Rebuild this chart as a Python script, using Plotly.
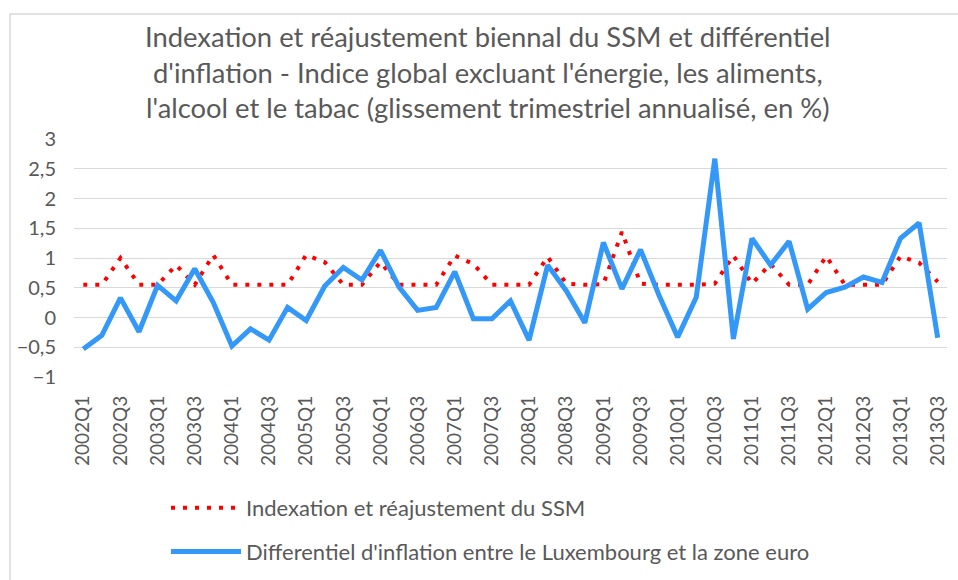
import plotly.graph_objects as go

quarters = [f"{y}Q{q}" for y in range(2002, 2014) for q in range(1, 5)][:47]

ssm = [0.55, 0.55, 1.0, 0.55, 0.55, 0.88, 0.55, 1.05, 0.55, 0.55,
       0.55, 0.55, 1.05, 0.93, 0.55, 0.55, 0.93, 0.55, 0.55, 0.55,
       1.04, 0.9, 0.55, 0.55, 0.55, 1.02, 0.57, 0.55, 0.56, 1.44,
       0.57, 0.55, 0.55, 0.55, 0.57, 1.04, 0.57, 0.9, 0.55, 0.55,
       1.03, 0.55, 0.55, 0.55, 1.03, 0.92, 0.6]

diff = [-0.53, -0.30, 0.33, -0.24, 0.54, 0.28, 0.82, 0.25, -0.48, -0.19,
        -0.38, 0.17, -0.05, 0.53, 0.84, 0.63, 1.13, 0.51, 0.12, 0.17,
        0.77, -0.02, -0.02, 0.28, -0.38, 0.88, 0.45, -0.09, 1.26, 0.48,
        1.14, 0.37, -0.33, 0.34, 2.67, -0.36, 1.33, 0.88, 1.28, 0.14,
        0.42, 0.51, 0.68, 0.59, 1.33, 1.59, -0.34]

tick_labels = quarters[::2]
name_ssm = "Indexation et réajustement du SSM"
name_diff = "Differentiel d'inflation entre le Luxembourg et la zone euro"
title_text = ("Indexation et réajustement biennal du SSM et différentiel<br>"
              "d'inflation - Indice global excluant l'énergie, les aliments,<br>"
              "l'alcool et le tabac (glissement trimestriel annualisé, en %)")

FONT = "Lato"
GRAY = "#595959"
W, H = 958, 580

fig = go.Figure()
fig.add_trace(go.Scatter(x=quarters, y=ssm, mode="lines", name=name_ssm,
                         legendgroup="a",
                         line=dict(color="#FF0000", width=4, dash="4px,8px")))
fig.add_trace(go.Scatter(x=quarters, y=diff, mode="lines", name=name_diff,
                         legendgroup="b",
                         line=dict(color="#3498F9", width=5)))

fig.update_layout(
    width=W, height=H,
    margin=dict(l=0, r=0, t=0, b=0),
    paper_bgcolor="white", plot_bgcolor="white",
    separators=", ",
    font=dict(family=FONT, color=GRAY),
    xaxis=dict(domain=[74 / W, 947 / W], type="category", range=[-0.5, 46.5],
               tickmode="array", tickvals=tick_labels, ticktext=tick_labels,
               tickangle=-90, tickfont=dict(size=19, color=GRAY),
               showgrid=False, showline=False, ticks="", automargin=False,
               ticklabelstandoff=14),
    yaxis=dict(domain=[(H - 377) / H, (H - 139) / H], range=[-1, 3],
               dtick=0.5, tick0=-1, showgrid=True, gridcolor="#D9D9D9",
               gridwidth=1, zeroline=False, tickfont=dict(size=20, color=GRAY),
               ticks="", ticklabelstandoff=17, automargin=False),
    legend=dict(x=166 / W, y=1 - 487 / H, xanchor="left", yanchor="top",
                font=dict(size=22, color=GRAY), traceorder="grouped",
                tracegroupgap=12, itemwidth=70, bgcolor="rgba(0,0,0,0)"),
    annotations=[dict(text=title_text, xref="paper", yref="paper",
                      x=488 / W, y=1 - 18 / H, xanchor="center",
                      yanchor="top", showarrow=False, align="center",
                      font=dict(family=FONT, size=27.4, color=GRAY))],
    shapes=[dict(type="rect", xref="paper", yref="paper",
                 x0=10 / W, x1=1.02, y0=-0.02, y1=1 - 14 / H,
                 line=dict(color="#D9D9D9", width=1.5))],
)

fig.write_html("out.html",
               config={"displayModeBar": False},
               post_script="document.body.style.margin='0';"
                           "document.body.style.overflow='hidden';")
